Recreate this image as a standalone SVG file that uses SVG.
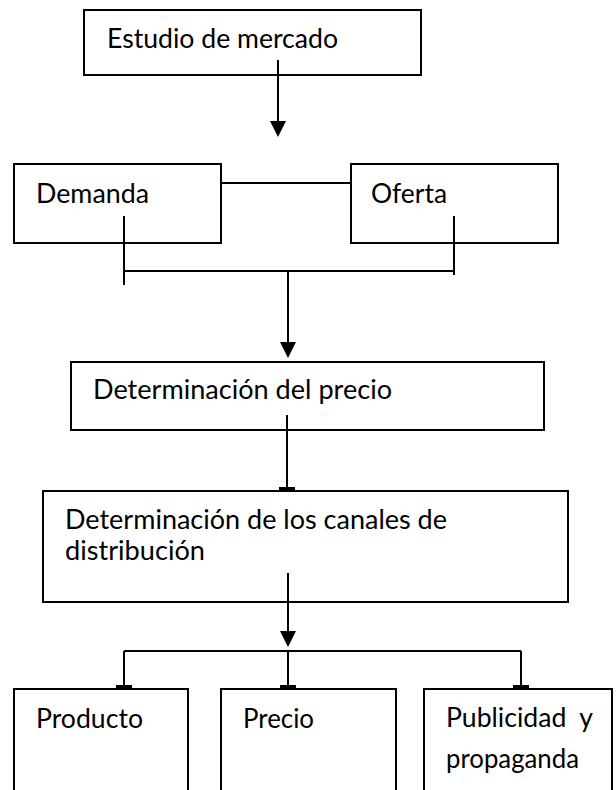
<svg xmlns="http://www.w3.org/2000/svg" width="616" height="790" viewBox="0 0 616 790">
  <style>
    .box { fill: #ffffff; stroke: #000000; stroke-width: 2; }
    .lbl { font-family: Lato, "Open Sans", "Liberation Sans", sans-serif; font-size: 26px; fill: #000000; }
    .con { fill: none; stroke: #000000; stroke-width: 2; }
  </style>
  <defs>
    <marker id="arrow" markerUnits="userSpaceOnUse" markerWidth="16" markerHeight="16" viewBox="0 0 16 16" refX="13" refY="8" orient="auto">
      <path d="M0,0 L16,8 L0,16 Z" fill="#000000"/>
    </marker>
    <marker id="tee" markerUnits="userSpaceOnUse" markerWidth="4" markerHeight="16" viewBox="0 0 4 16" refX="2" refY="8" orient="auto">
      <rect x="0" y="0" width="3" height="16" fill="#000000"/>
    </marker>
  </defs>

  <g id="estudio">
    <rect class="box" x="84" y="10" width="337" height="65"/>
    <text class="lbl" x="107" y="48" textLength="231" lengthAdjust="spacingAndGlyphs">Estudio de mercado</text>
  </g>
  <g id="demanda">
    <rect class="box" x="14" y="164" width="207" height="79"/>
    <text class="lbl" x="36" y="203" textLength="113" lengthAdjust="spacingAndGlyphs">Demanda</text>
  </g>
  <g id="oferta">
    <rect class="box" x="351" y="164" width="207" height="79"/>
    <text class="lbl" x="371" y="203" textLength="76" lengthAdjust="spacingAndGlyphs">Oferta</text>
  </g>
  <g id="precio-det">
    <rect class="box" x="71" y="362" width="473" height="68"/>
    <text class="lbl" x="93" y="399" textLength="299" lengthAdjust="spacingAndGlyphs">Determinación del precio</text>
  </g>
  <g id="canales">
    <rect class="box" x="43" y="491" width="525" height="111"/>
    <text class="lbl" x="65" y="529" textLength="382" lengthAdjust="spacingAndGlyphs">Determinación de los canales de</text>
    <text class="lbl" x="65" y="560" textLength="140" lengthAdjust="spacingAndGlyphs">distribución</text>
  </g>
  <g id="producto">
    <rect class="box" x="14" y="689" width="174" height="120"/>
    <text class="lbl" x="36" y="728" textLength="107" lengthAdjust="spacingAndGlyphs">Producto</text>
  </g>
  <g id="precio">
    <rect class="box" x="221" y="689" width="175" height="120"/>
    <text class="lbl" x="243" y="728" textLength="71" lengthAdjust="spacingAndGlyphs">Precio</text>
  </g>
  <g id="publicidad">
    <rect class="box" x="424" y="689" width="188" height="120"/>
    <text class="lbl" x="446" y="727" textLength="147" lengthAdjust="spacingAndGlyphs" xml:space="preserve">Publicidad  y</text>
    <text class="lbl" x="446" y="768" textLength="133" lengthAdjust="spacingAndGlyphs">propaganda</text>
  </g>

  <g id="connectors">
    <line class="con" x1="278" y1="60" x2="278" y2="134" marker-end="url(#arrow)"/>
    <line class="con" x1="221" y1="183" x2="351" y2="183"/>
    <line class="con" x1="124" y1="216" x2="124" y2="285"/>
    <line class="con" x1="454" y1="216" x2="454" y2="275"/>
    <line class="con" x1="124" y1="271" x2="454" y2="271"/>
    <line class="con" x1="288" y1="271" x2="288" y2="355" marker-end="url(#arrow)"/>
    <line class="con" x1="287" y1="415" x2="287" y2="489" marker-end="url(#tee)"/>
    <line class="con" x1="288" y1="573" x2="288" y2="644" marker-end="url(#arrow)"/>
    <line class="con" x1="124" y1="651" x2="521" y2="651"/>
    <line class="con" x1="124" y1="651" x2="124" y2="687" marker-end="url(#tee)"/>
    <line class="con" x1="288" y1="651" x2="288" y2="687" marker-end="url(#tee)"/>
    <line class="con" x1="521" y1="651" x2="521" y2="687" marker-end="url(#tee)"/>
  </g>
</svg>
